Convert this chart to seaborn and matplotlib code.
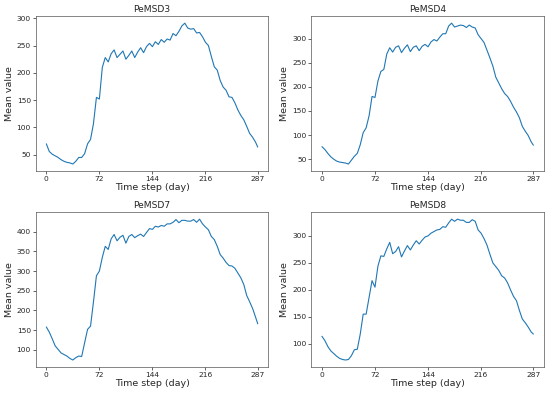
import matplotlib
matplotlib.use("Agg")
import matplotlib.pyplot as plt
import seaborn as sns
import pandas as pd

# time steps (sampled every 4 steps, plus the last one)
steps = list(range(0, 288, 4)) + [287]

pemsd3 = [70, 56, 51, 48, 45, 41, 38, 36, 35, 33, 38, 45, 45, 52, 70, 78, 107, 155, 152,
          210, 228, 220, 235, 242, 228, 234, 240, 225, 232, 240, 228, 238, 246, 237, 248,
          254, 248, 257, 252, 261, 256, 262, 260, 272, 268, 276, 286, 291, 282, 280, 281,
          273, 274, 266, 256, 250, 230, 211, 205, 186, 174, 168, 156, 155, 145, 132, 122,
          114, 102, 89, 82, 73, 64]

pemsd4 = [76, 70, 62, 55, 50, 46, 44, 43, 42, 40, 48, 56, 62, 80, 105, 115, 140, 180, 178,
          212, 232, 236, 268, 281, 272, 282, 285, 271, 280, 287, 273, 282, 285, 275, 284,
          288, 283, 293, 298, 295, 303, 310, 310, 326, 332, 324, 326, 328, 327, 323, 328,
          324, 322, 308, 300, 292, 276, 260, 243, 220, 208, 196, 186, 180, 170, 158, 148,
          136, 118, 108, 99, 86, 79]

pemsd7 = [158, 145, 128, 110, 101, 92, 88, 84, 78, 74, 80, 84, 83, 118, 152, 160, 222, 288,
          300, 335, 363, 355, 382, 393, 377, 386, 391, 371, 388, 393, 385, 390, 394, 388,
          398, 408, 406, 414, 412, 416, 414, 420, 420, 424, 431, 423, 429, 429, 427, 427,
          431, 424, 432, 420, 412, 405, 388, 380, 363, 342, 333, 322, 314, 313, 307, 295,
          283, 266, 238, 222, 205, 183, 166]

pemsd8 = [114, 106, 95, 87, 82, 77, 73, 71, 70, 71, 78, 89, 90, 118, 155, 155, 186, 217,
          205, 244, 263, 262, 276, 288, 267, 271, 280, 261, 272, 282, 274, 283, 291, 285,
          292, 298, 300, 305, 308, 311, 312, 317, 316, 324, 331, 327, 331, 329, 329, 325,
          325, 330, 327, 311, 305, 295, 283, 266, 250, 243, 236, 226, 222, 213, 200, 188,
          180, 162, 146, 139, 131, 122, 118]

titles = ["PeMSD3", "PeMSD4", "PeMSD7", "PeMSD8"]
series = [pemsd3, pemsd4, pemsd7, pemsd8]
xticks = [0, 72, 144, 216, 287]

sns.set_style("ticks")
plt.rcParams['font.family'] = ['DejaVu Sans']

fig, axes = plt.subplots(2, 2, figsize=(5.5, 3.93), dpi=100)
plt.subplots_adjust(left=0.065, right=0.989, top=0.959, bottom=0.066, wspace=0.185, hspace=0.265)

for ax, title, vals in zip(axes.flat, titles, series):
    df = pd.DataFrame({'step': steps, 'value': vals})
    sns.lineplot(data=df, x='step', y='value', ax=ax, color='#1f77b4', linewidth=0.8)
    ax.set_title(title, fontsize=6.6, pad=3)
    ax.set_xlabel('Time step (day)', fontsize=6.8, labelpad=1)
    ax.set_ylabel('Mean value', fontsize=6.8, labelpad=2)
    ax.set_xticks(xticks)
    ax.tick_params(labelsize=5.4, length=2, width=0.5, pad=1.5)
    for s in ax.spines.values():
        s.set_linewidth(0.5)
        s.set_color('#555555')

plt.savefig('out.png', dpi=100)
